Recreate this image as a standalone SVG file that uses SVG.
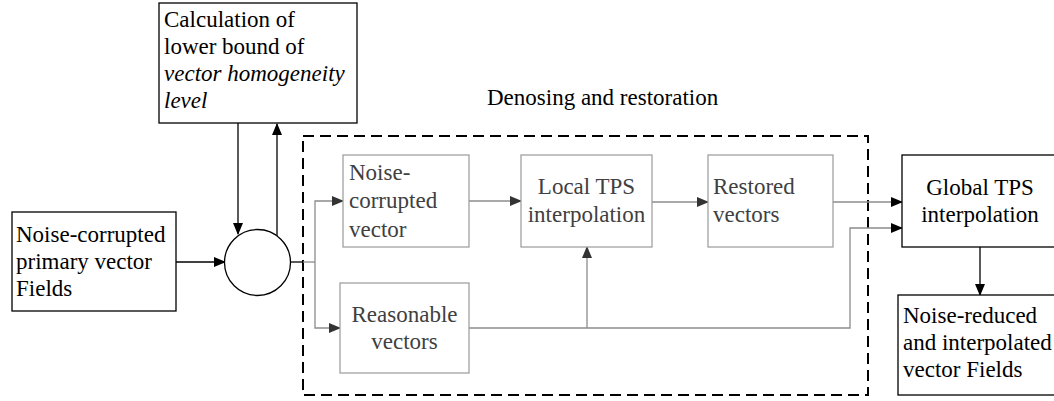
<svg xmlns="http://www.w3.org/2000/svg" width="1054" height="401" viewBox="0 0 1054 401">
<defs>
<style>
.t{fill:#000}
.ti{font-style:italic;fill:#000}
.g{fill:#404040}
.ob{fill:#fff;stroke:#000;stroke-width:1.3}
.ib{fill:#fff;stroke:#999;stroke-width:1.2}
.bl{fill:none;stroke:#000;stroke-width:1.3}
.gl{fill:none;stroke:#8c8c8c;stroke-width:1.3}
</style>
<marker id="ab" markerWidth="12" markerHeight="10" refX="11" refY="5" orient="auto" markerUnits="userSpaceOnUse"><path d="M0,0 L12,5 L0,10 Z" fill="#000"/></marker>
<marker id="ag" markerWidth="12" markerHeight="10" refX="11" refY="5" orient="auto" markerUnits="userSpaceOnUse"><path d="M0,0 L12,5 L0,10 Z" fill="#333"/></marker>
</defs>
<rect width="1054" height="401" fill="#fff"/>

<g id="group-denoising">
<rect x="303" y="136" width="565" height="259" fill="none" stroke="#000" stroke-width="2" stroke-dasharray="11,6"/>
<text class="t" x="487" y="105" font-family="Liberation Serif, serif" font-size="23">Denosing and restoration</text>
</g>

<g id="connectors">
<line class="bl" x1="238" y1="123" x2="238" y2="234" marker-end="url(#ab)"/>
<line class="bl" x1="277" y1="236" x2="277" y2="124" marker-end="url(#ab)"/>
<line class="bl" x1="176" y1="262" x2="225" y2="262" marker-end="url(#ab)"/>
<line class="bl" x1="290" y1="262" x2="303" y2="262"/>
<polyline class="gl" points="303,262 315,262"/>
<polyline class="gl" points="315,262 315,201 343,201" marker-end="url(#ag)"/>
<polyline class="gl" points="315,262 315,328 340,328" marker-end="url(#ag)"/>
<line class="gl" x1="469" y1="201" x2="521" y2="201" marker-end="url(#ag)"/>
<line class="gl" x1="652" y1="202" x2="708" y2="202" marker-end="url(#ag)"/>
<line class="gl" x1="587" y1="328" x2="587" y2="247" marker-end="url(#ag)"/>
<polyline class="gl" points="469,328 850,328 850,228 902,228" marker-end="url(#ab)"/>
<line class="gl" x1="833" y1="202" x2="902" y2="202" marker-end="url(#ab)"/>
<line class="bl" x1="980" y1="247" x2="980" y2="295" marker-end="url(#ab)"/>
</g>

<g id="node-calc" font-family="Liberation Serif, serif" font-size="23">
<rect class="ob" x="159" y="3" width="198" height="120"/>
<text class="t" x="164" y="27">Calculation of</text>
<text class="t" x="164" y="54">lower bound of</text>
<text class="ti" x="164" y="81">vector homogeneity</text>
<text class="ti" x="164" y="108">level</text>
</g>

<g id="node-input" font-family="Liberation Serif, serif" font-size="23">
<rect class="ob" x="12" y="212" width="164" height="99"/>
<text class="t" x="16" y="242">Noise-corrupted</text>
<text class="t" x="16" y="269">primary vector</text>
<text class="t" x="16" y="296">Fields</text>
</g>

<g id="node-circle">
<circle cx="257.5" cy="262.5" r="33" fill="#fff" stroke="#000" stroke-width="1.3"/>
</g>

<g id="node-noisy" font-family="Liberation Serif, serif" font-size="23">
<rect class="ib" x="343" y="155" width="126" height="92"/>
<text class="g" x="349" y="180">Noise-</text>
<text class="g" x="349" y="208">corrupted</text>
<text class="g" x="349" y="237">vector</text>
</g>

<g id="node-local" font-family="Liberation Serif, serif" font-size="23">
<rect class="ib" x="521" y="155" width="131" height="92"/>
<text class="g" x="586.5" y="194" text-anchor="middle">Local TPS</text>
<text class="g" x="586.5" y="222" text-anchor="middle">interpolation</text>
</g>

<g id="node-restored" font-family="Liberation Serif, serif" font-size="23">
<rect class="ib" x="708" y="155" width="125" height="92"/>
<text class="g" x="713" y="194">Restored</text>
<text class="g" x="713" y="222">vectors</text>
</g>

<g id="node-reasonable" font-family="Liberation Serif, serif" font-size="23">
<rect class="ib" x="340" y="283" width="129" height="90"/>
<text class="g" x="404.5" y="322" text-anchor="middle">Reasonable</text>
<text class="g" x="404.5" y="349" text-anchor="middle">vectors</text>
</g>

<g id="node-global" font-family="Liberation Serif, serif" font-size="23">
<rect class="ob" x="902" y="155" width="160" height="92"/>
<text class="t" x="980" y="195" text-anchor="middle">Global TPS</text>
<text class="t" x="980" y="222" text-anchor="middle">interpolation</text>
</g>

<g id="node-output" font-family="Liberation Serif, serif" font-size="23">
<rect class="ob" x="898" y="295" width="164" height="100"/>
<text class="t" x="903" y="323">Noise-reduced</text>
<text class="t" x="903" y="350">and interpolated</text>
<text class="t" x="903" y="377">vector Fields</text>
</g>
</svg>
